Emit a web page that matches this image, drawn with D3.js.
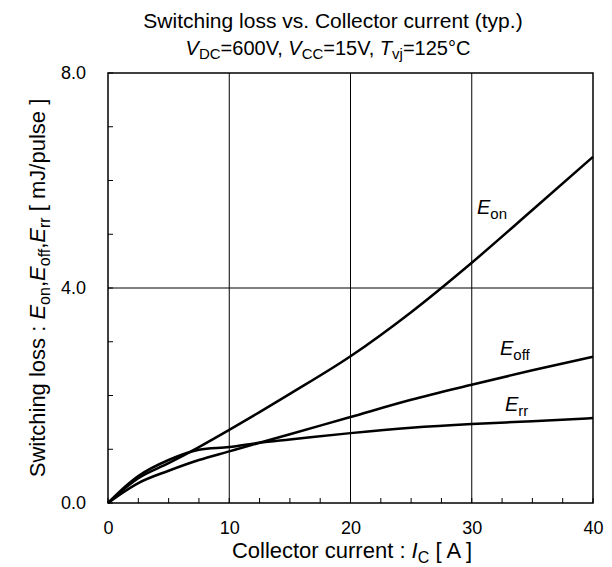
<!DOCTYPE html>
<html><head><meta charset="utf-8">
<script src="https://cdn.jsdelivr.net/npm/d3@7"></script>
<style>body{margin:0;background:#fff}svg{display:block;font-family:"Liberation Sans",Arial,sans-serif}</style>
</head><body>
<svg id="c" width="612" height="567"></svg>
<script>
const current = [0, 1, 2.5, 5, 7.5, 10, 12.5, 15, 20, 25, 30, 35, 40];
const eon  = [0, 0.20, 0.46, 0.74, 1.04, 1.36, 1.69, 2.03, 2.73, 3.55, 4.47, 5.45, 6.44];
const eoff = [0, 0.16, 0.37, 0.60, 0.80, 0.96, 1.12, 1.28, 1.60, 1.92, 2.20, 2.47, 2.72];
const err  = [0, 0.22, 0.50, 0.80, 0.99, 1.04, 1.12, 1.18, 1.30, 1.40, 1.47, 1.52, 1.58];
const xTicks = [0, 10, 20, 30, 40];
const yTicks = [0, 4, 8];
const xMinor = d3.range(0, 40.01, 2.5);
const yMinor = d3.range(0, 8.01, 1);

const svg = d3.select("#c");
const L = 108, R = 593, T = 73, B = 503;
const x = d3.scaleLinear().domain([0, 40]).range([L, R]);
const y = d3.scaleLinear().domain([0, 8]).range([B, T]);
const FF = "Liberation Sans, Arial, sans-serif";

// grid
svg.append("g").selectAll("line").data(xTicks.slice(1, -1)).join("line")
  .attr("x1", d => x(d)).attr("x2", d => x(d)).attr("y1", T).attr("y2", B)
  .attr("stroke", "#000").attr("stroke-width", 1);
svg.append("g").selectAll("line").data(yTicks.slice(1, -1)).join("line")
  .attr("y1", d => y(d)).attr("y2", d => y(d)).attr("x1", L).attr("x2", R)
  .attr("stroke", "#000").attr("stroke-width", 1);

// minor ticks (inward)
svg.append("g").selectAll("line").data(xMinor).join("line")
  .attr("x1", d => x(d)).attr("x2", d => x(d)).attr("y1", B).attr("y2", B - 5)
  .attr("stroke", "#000").attr("stroke-width", 1);
svg.append("g").selectAll("line").data(yMinor).join("line")
  .attr("y1", d => y(d)).attr("y2", d => y(d)).attr("x1", L).attr("x2", L + 5)
  .attr("stroke", "#000").attr("stroke-width", 1);

// frame
svg.append("rect").attr("x", L).attr("y", T).attr("width", R - L).attr("height", B - T)
  .attr("fill", "none").attr("stroke", "#000").attr("stroke-width", 1.5);

// axes labels
const xa = d3.axisBottom(x).tickValues(xTicks).tickSize(0).tickPadding(18).tickFormat(d3.format("d"));
const gx = svg.append("g").attr("transform", `translate(0,${B})`).call(xa);
gx.select(".domain").remove();
gx.selectAll("text").attr("font-size", 18).attr("font-family", FF).attr("fill", "#000");

const ya = d3.axisLeft(y).tickValues(yTicks).tickSize(0).tickPadding(22).tickFormat(d3.format(".1f"));
const gy = svg.append("g").attr("transform", `translate(${L},0)`).call(ya);
gy.select(".domain").remove();
gy.selectAll("text").attr("font-size", 18).attr("font-family", FF).attr("fill", "#000");

// curves
const line = d3.line().x(d => x(d[0])).y(d => y(d[1])).curve(d3.curveMonotoneX);
[eon, eoff, err].forEach(s => {
  svg.append("path").datum(current.map((c, i) => [c, s[i]])).attr("d", line)
    .attr("fill", "none").attr("stroke", "#000").attr("stroke-width", 2.5);
});

// curve labels
function elabel(px, py, sub) {
  const t = svg.append("text").attr("x", px).attr("y", py).attr("font-size", 20);
  t.append("tspan").attr("font-style", "italic").text("E");
  t.append("tspan").attr("font-size", 15).attr("dy", 5).text(sub);
}
elabel(477, 214, "on");
elabel(500, 355, "off");
elabel(505, 411, "rr");

// title
svg.append("text").attr("x", 333).attr("y", 28).attr("text-anchor", "middle")
  .attr("font-size", 21).text("Switching loss vs. Collector current (typ.)");
const st = svg.append("text").attr("x", 328).attr("y", 55).attr("text-anchor", "middle").attr("font-size", 20);
st.append("tspan").attr("font-style", "italic").text("V");
st.append("tspan").attr("font-size", 15).attr("dy", 4).text("DC");
st.append("tspan").attr("dy", -4).text("=600V, ");
st.append("tspan").attr("font-style", "italic").text("V");
st.append("tspan").attr("font-size", 15).attr("dy", 4).text("CC");
st.append("tspan").attr("dy", -4).text("=15V, ");
st.append("tspan").attr("font-style", "italic").text("T");
st.append("tspan").attr("font-size", 15).attr("dy", 4).text("vj");
st.append("tspan").attr("dy", -4).text("=125°C");

// x axis title
const xt = svg.append("text").attr("x", 352).attr("y", 558).attr("text-anchor", "middle").attr("font-size", 22);
xt.append("tspan").text("Collector current : ");
xt.append("tspan").attr("font-style", "italic").text("I");
xt.append("tspan").attr("font-size", 16).attr("dy", 5).text("C");
xt.append("tspan").attr("dy", -5).text(" [ A ]");

// y axis title
const yt = svg.append("text").attr("transform", `translate(45,${(T + B) / 2}) rotate(-90)`)
  .attr("text-anchor", "middle").attr("font-size", 22);
yt.append("tspan").text("Switching loss : ");
yt.append("tspan").attr("font-style", "italic").text("E");
yt.append("tspan").attr("font-size", 16).attr("dy", 5).text("on");
yt.append("tspan").attr("dy", -5).text(",");
yt.append("tspan").attr("font-style", "italic").text("E");
yt.append("tspan").attr("font-size", 16).attr("dy", 5).text("off");
yt.append("tspan").attr("dy", -5).text(",");
yt.append("tspan").attr("font-style", "italic").text("E");
yt.append("tspan").attr("font-size", 16).attr("dy", 5).text("rr");
yt.append("tspan").attr("dy", -5).text(" [ mJ/pulse ]");
</script>
</body></html>
